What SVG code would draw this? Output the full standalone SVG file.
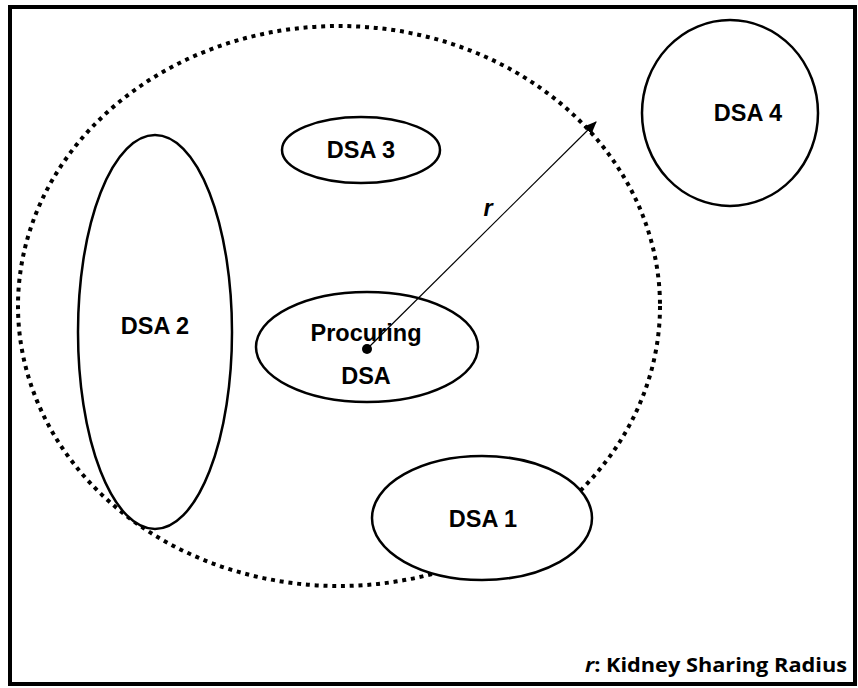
<svg xmlns="http://www.w3.org/2000/svg" width="858" height="688" viewBox="0 0 858 688">
<style>
.frame{fill:none;stroke:#000;stroke-width:4}
.dsa{fill:#fff;stroke:#000;stroke-width:2.5}
.lbl{font-family:"Liberation Sans",Arial,sans-serif;font-weight:bold;font-size:23.5px;fill:#000;text-anchor:middle}
.legend{font-family:"Open Sans","Liberation Sans",sans-serif;font-weight:bold;font-size:20px;fill:#000}
</style>
<defs>
<marker id="ah" viewBox="0 0 12 10" refX="11" refY="5" markerWidth="13" markerHeight="11" markerUnits="userSpaceOnUse" orient="auto">
<path d="M0,0 L12,5 L0,10 z" fill="#000"/>
</marker>
</defs>
<rect x="10" y="7" width="845" height="677" class="frame"/>
<g id="radius-circle">
<ellipse cx="339" cy="306" rx="321" ry="280" fill="none" stroke="#000" stroke-width="4" stroke-dasharray="4 4.8"/>
</g>
<g id="dsa3">
<ellipse cx="361" cy="150" rx="79" ry="33" class="dsa"/>
<text x="361" y="158" class="lbl">DSA 3</text>
</g>
<g id="dsa4">
<ellipse cx="730" cy="113" rx="88" ry="93" class="dsa"/>
<text x="748" y="121" class="lbl">DSA 4</text>
</g>
<g id="dsa2">
<ellipse cx="155" cy="332" rx="77" ry="197" class="dsa"/>
<text x="155" y="334" class="lbl">DSA 2</text>
</g>
<g id="procuring">
<ellipse cx="367" cy="347" rx="111" ry="55" class="dsa"/>
<text x="366" y="341" class="lbl">Procuring</text>
<text x="366" y="384" class="lbl">DSA</text>
<circle cx="367" cy="349" r="5" fill="#000"/>
</g>
<g id="dsa1">
<ellipse cx="482" cy="518" rx="110" ry="62" class="dsa"/>
<text x="483" y="527" class="lbl">DSA 1</text>
</g>
<g id="connectors">
<line x1="367" y1="349" x2="596" y2="122" stroke="#000" stroke-width="1.2" marker-end="url(#ah)"/>
<text x="488" y="216" class="lbl" font-style="italic">r</text>
</g>
<text x="585" y="672" class="legend" textLength="262" lengthAdjust="spacingAndGlyphs"><tspan font-style="italic">r</tspan>: Kidney Sharing Radius</text>
</svg>
